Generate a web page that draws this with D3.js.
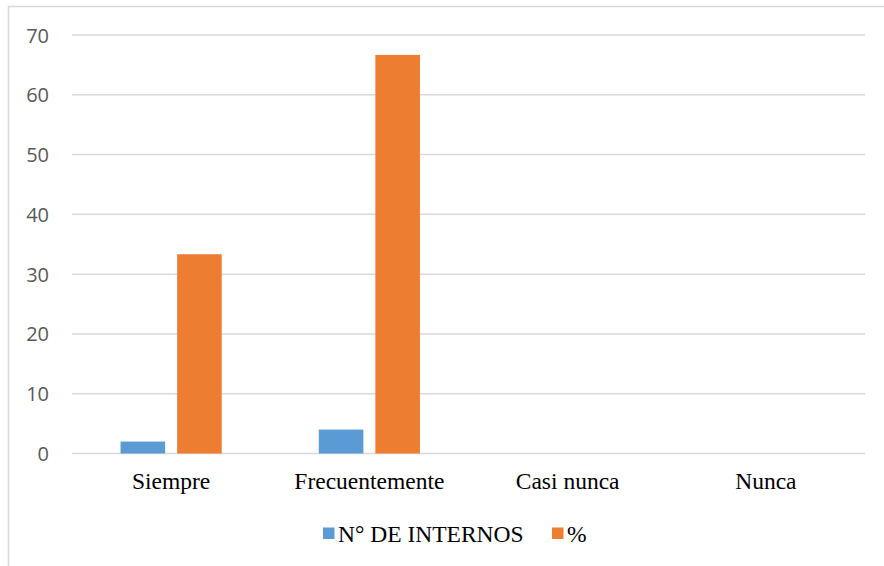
<!DOCTYPE html>
<html><head><meta charset="utf-8">
<script src="https://cdn.jsdelivr.net/npm/d3@7"></script>
<style>body{margin:0;background:#fff}svg{display:block}
.serif{font-family:"Liberation Serif","Times New Roman",serif}</style>
</head><body>
<svg id="c" width="884" height="566"></svg>
<script>
const categories = ["Siempre", "Frecuentemente", "Casi nunca", "Nunca"];
const seriesNames = ["N° DE INTERNOS", "%"];
const internos = [2, 4, 0, 0];
const porcentaje = [33.33, 66.67, 0, 0];
const yTicks = [0, 10, 20, 30, 40, 50, 60, 70];
const colors = ["#5B9BD5", "#ED7D31"];

(function () {
const svg = d3.select("#c");
svg.append("rect").attr("x", 8.5).attr("y", 6.5).attr("width", 900).attr("height", 600)
  .attr("fill", "none").attr("stroke", "#D9D9D9").attr("stroke-width", 1.5);

const mLeft = 72, mRight = 865, mTop = 35, mBottom = 453.5;
const x0 = d3.scaleBand().domain(categories).range([mLeft, mRight]).padding(0);
const x1 = d3.scaleBand().domain(seriesNames).range([0, x0.bandwidth()])
  .paddingInner(0.212).paddingOuter(0.858);
const y = d3.scaleLinear().domain([0, 70]).range([mBottom, mTop]);

// gridlines
svg.append("g").selectAll("line").data(yTicks).join("line")
  .attr("x1", mLeft).attr("x2", mRight)
  .attr("y1", d => y(d)).attr("y2", d => y(d))
  .attr("stroke", "#D9D9D9").attr("stroke-width", 1.5);

// y labels
const yAxis = d3.axisLeft(y).tickValues(yTicks).tickSize(0).tickPadding(0);
const gy = svg.append("g").attr("transform", "translate(49,0)").call(yAxis);
gy.select(".domain").remove();
gy.attr("font-family", null).attr("font-size", null);
gy.selectAll("text").style("font-family", "'Open Sans', sans-serif").style("font-size", "20px")
  .attr("fill", "#595959").attr("dy", "0.35em");

// bars
const data = categories.map((c, i) => ({c, vals: [internos[i], porcentaje[i]]}));
const groups = svg.append("g").selectAll("g").data(data).join("g")
  .attr("transform", d => `translate(${x0(d.c)},0)`);
groups.selectAll("rect").data(d => d.vals.map((v, j) => ({v, s: seriesNames[j], j})))
  .join("rect")
  .attr("x", d => x1(d.s)).attr("width", x1.bandwidth())
  .attr("y", d => y(d.v)).attr("height", d => y(0) - y(d.v))
  .attr("fill", d => colors[d.j]);

// x labels
const xAxis = d3.axisBottom(x0).tickSize(0).tickPadding(0);
const gx = svg.append("g").attr("transform", "translate(0,489)").call(xAxis);
gx.select(".domain").remove();
gx.attr("font-family", null).attr("font-size", null);
gx.selectAll("text").attr("class", "serif").style("font-size", "23.5px")
  .attr("fill", "#000").attr("dy", 0);

// legend
const legend = svg.append("g");
const legX = [323, 552];
seriesNames.forEach((s, i) => {
  legend.append("rect").attr("x", legX[i]).attr("y", 527.5).attr("width", 11.5).attr("height", 11.5)
    .attr("fill", colors[i]);
  legend.append("text").attr("x", legX[i] + 15).attr("y", 542)
    .attr("class", "serif").style("font-size", "23.5px")
    .attr("fill", "#000").text(s);
});
})();
</script>
</body></html>
